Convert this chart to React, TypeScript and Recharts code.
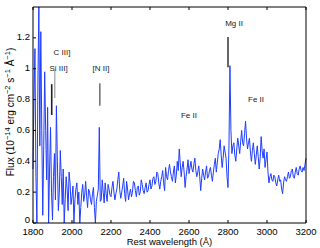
import { LineChart, Line, XAxis, YAxis, ReferenceLine, ReferenceDot } from 'recharts'

const FONT = '"Liberation Sans", Arial, sans-serif'

// spectrum sampled every 5 Å from 1800 to 3200
const wavelengths = Array.from({ length: 281 }, (_, i) => 1800 + i * 5)
const flux = [
  0.35, 0.8, 1.13, 0.3, 0.0, 0.9, 1.4, 0.5, 1.24, 0.6, 0.05, 0.5, 0.98, 0.6, 0.28, 0.75, 0.0, 0.35, 0.62, 0.2,
  0.02, 0.3, 0.45, 0.15, 0.76, 0.4, 0.08, 0.2, 0.47, 0.3, 0.12, 0.35, 0.0, 0.15, 0.3, 0.22, 0.08, 0.33, 0.26, 0.12,
  0.17, 0.24, 0.0, 0.15, 0.22, 0.26, 0.12, 0.2, 0.0, 0.1, 0.2, 0.25, 0.14, 0.18, 0.27, 0.17, 0.1, 0.22, 0.2, 0.15,
  0.12, 0.19, 0.23, 0.1, 0.0, 0.14, 0.18, 0.22, 0.62, 0.14, 0.15, 0.28, 0.2, 0.13, 0.26, 0.19, 0.14, 0.25, 0.22, 0.18,
  0.17, 0.23, 0.27, 0.2, 0.15, 0.19, 0.22, 0.28, 0.33, 0.21, 0.16, 0.2, 0.24, 0.29, 0.19, 0.14, 0.27, 0.22, 0.15, 0.19,
  0.22, 0.17, 0.2, 0.27, 0.26, 0.21, 0.17, 0.23, 0.24, 0.18, 0.2, 0.28, 0.25, 0.21, 0.19, 0.23, 0.26, 0.2, 0.21, 0.25,
  0.28, 0.22, 0.24, 0.29, 0.3, 0.25, 0.27, 0.33, 0.32, 0.26, 0.22, 0.27, 0.3, 0.34, 0.26, 0.21, 0.36, 0.3, 0.28, 0.34,
  0.38, 0.33, 0.3, 0.27, 0.33, 0.37, 0.26, 0.31, 0.4, 0.34, 0.48, 0.39, 0.3, 0.36, 0.4, 0.33, 0.23, 0.3, 0.35, 0.41,
  0.32, 0.36, 0.4, 0.35, 0.33, 0.38, 0.42, 0.34, 0.3, 0.33, 0.37, 0.3, 0.21, 0.29, 0.35, 0.31, 0.28, 0.33, 0.37, 0.29,
  0.3, 0.34, 0.36, 0.31, 0.27, 0.33, 0.38, 0.42, 0.33, 0.39, 0.45, 0.48, 0.54, 0.44, 0.36, 0.42, 0.5, 0.46, 0.42, 0.3,
  0.23, 0.5, 1.02, 0.6, 0.45, 0.5, 0.52, 0.44, 0.4, 0.48, 0.55, 0.5, 0.45, 0.53, 0.6, 0.52, 0.5, 0.58, 0.66, 0.55,
  0.48, 0.52, 0.55, 0.46, 0.4, 0.47, 0.52, 0.45, 0.38, 0.44, 0.5, 0.43, 0.35, 0.42, 0.56, 0.47, 0.42, 0.48, 0.36, 0.41,
  0.46, 0.33, 0.26, 0.3, 0.32, 0.28, 0.27, 0.31, 0.3, 0.26, 0.24, 0.28, 0.31, 0.27, 0.28, 0.22, 0.19, 0.26, 0.3, 0.28,
  0.27, 0.3, 0.33, 0.29, 0.3, 0.34, 0.35, 0.3, 0.29, 0.33, 0.36, 0.32, 0.31, 0.35, 0.37, 0.34, 0.33, 0.36, 0.34, 0.38,
  0.42,
]

const xTicks = [1800, 2000, 2200, 2400, 2600, 2800, 3000, 3200]
const yTicks = [0, 0.2, 0.4, 0.6, 0.8, 1, 1.2]
const yMinorTicks = Array.from({ length: 57 }, (_, i) => +(i * 0.025).toFixed(3))

// emission line markers
const markerWaves = [1896, 1912, 2143, 2800]
const markerLow = [0.7, 0.81, 0.76, 1.01]
const markerHigh = [0.9, 0.99, 0.905, 1.205]
const markerColors = ['#222', '#888', '#222', '#666']
const markerWidths = [1.6, 1, 1, 2]

// line labels
const labelNames = ['C III]', 'Si III]', '[N II]', 'Mg II', 'Fe II', 'Fe II']
const labelWaves = [1949, 1931, 2149, 2831, 2600, 2944]
const labelFlux = [1.107, 1.003, 1.003, 1.296, 0.7, 0.8]

const data = wavelengths.map((w, i) => ({ w, f: flux[i] }))

function BottomTick({ x, y, payload }: any) {
  return (
    <g>
      <line x1={x} x2={x} y1={y} y2={y - 3} stroke="#000" />
      <text x={x} y={y + 11.5} textAnchor="middle" fontSize={9.5} fontFamily={FONT} fill="#000">
        {payload.value}
      </text>
    </g>
  )
}

function TopTick({ x, y }: any) {
  return <line x1={x} x2={x} y1={y} y2={y + 3} stroke="#000" />
}

function LeftTick({ x, y, payload }: any) {
  // the zero label sits just above its tick, as in the original
  const shift = payload.value === 0 ? -0.5 : 2.5
  return (
    <g>
      <line x1={x} x2={x + 3} y1={y} y2={y} stroke="#000" />
      <text x={x - 3} y={y + shift} textAnchor="end" fontSize={9.5} fontFamily={FONT} fill="#000">
        {payload.value}
      </text>
    </g>
  )
}

function RightTick({ x, y, payload }: any) {
  const major = Math.abs(payload.value * 5 - Math.round(payload.value * 5)) < 1e-6
  return (
    <line x1={x} x2={x - (major ? 3 : 2)} y1={y} y2={y} stroke={major ? '#000' : '#777'} />
  )
}

function XTitle({ viewBox }: any) {
  return (
    <text x={viewBox.x + viewBox.width / 2} y={viewBox.y + 21.5} textAnchor="middle" fontSize={9.5} fontFamily={FONT} fill="#000">
      Rest wavelength (Å)
    </text>
  )
}

function YTitle() {
  return (
    <text transform="translate(13.5,112) rotate(-90)" textAnchor="middle" fontSize={10} fontFamily={FONT} fill="#000">
      Flux (10<tspan fontSize={7.5} dy={-4}>−14</tspan>
      <tspan dy={4}> erg cm</tspan>
      <tspan fontSize={7.5} dy={-4}>−2</tspan>
      <tspan dy={4}> s</tspan>
      <tspan fontSize={7.5} dy={-4}>−1</tspan>
      <tspan dy={4}> Å</tspan>
      <tspan fontSize={7.5} dy={-4}>−1</tspan>
      <tspan dy={4}>)</tspan>
    </text>
  )
}

export default function App() {
  return (
    <div style={{ position: 'absolute', left: 0, top: 0, background: '#fff' }}>
      <LineChart width={320} height={248} data={data} margin={{ top: 0, right: 0, bottom: 0, left: 0 }}>
        <XAxis
          xAxisId="b" dataKey="w" type="number" domain={[1800, 3200]} ticks={xTicks} interval={0}
          height={25} tickSize={0} tickMargin={0} tick={<BottomTick />} tickLine={false}
          axisLine={{ stroke: '#000' }} label={<XTitle />}
        />
        <XAxis
          xAxisId="t" orientation="top" dataKey="w" type="number" domain={[1800, 3200]} ticks={xTicks}
          interval={0} height={7} tickSize={0} tickMargin={0} tick={<TopTick />} tickLine={false}
          axisLine={{ stroke: '#000' }}
        />
        <YAxis
          yAxisId="l" type="number" domain={[0, 1.4]} ticks={yTicks} interval={0} width={33}
          tickSize={0} tickMargin={0} tick={<LeftTick />} tickLine={false} allowDataOverflow
          axisLine={{ stroke: '#000' }} label={<YTitle />}
        />
        <YAxis
          yAxisId="r" orientation="right" type="number" domain={[0, 1.4]} ticks={yMinorTicks}
          interval={0} width={14} tickSize={0} tickMargin={0} tick={<RightTick />} tickLine={false}
          axisLine={{ stroke: '#000' }}
        />
        <Line
          xAxisId="b" yAxisId="l" dataKey="f" type="linear" stroke="#1f3dff" strokeWidth={1}
          dot={false} isAnimationActive={false}
        />
        {markerWaves.map((w, i) => (
          <ReferenceLine
            key={'m' + i} xAxisId="b" yAxisId="l"
            segment={[{ x: w, y: markerLow[i] }, { x: w, y: markerHigh[i] }]}
            stroke={markerColors[i]} strokeWidth={markerWidths[i]}
          />
        ))}
        {labelNames.map((name, i) => (
          <ReferenceDot
            key={'t' + i} xAxisId="b" yAxisId="l" x={labelWaves[i]} y={labelFlux[i]} r={1}
            shape={(p: any) => (
              <text x={p.cx} y={p.cy} dy="0.35em" textAnchor="middle" fontSize={8} fontFamily={FONT} fill="#222">
                {name}
              </text>
            )}
          />
        ))}
      </LineChart>
    </div>
  )
}
